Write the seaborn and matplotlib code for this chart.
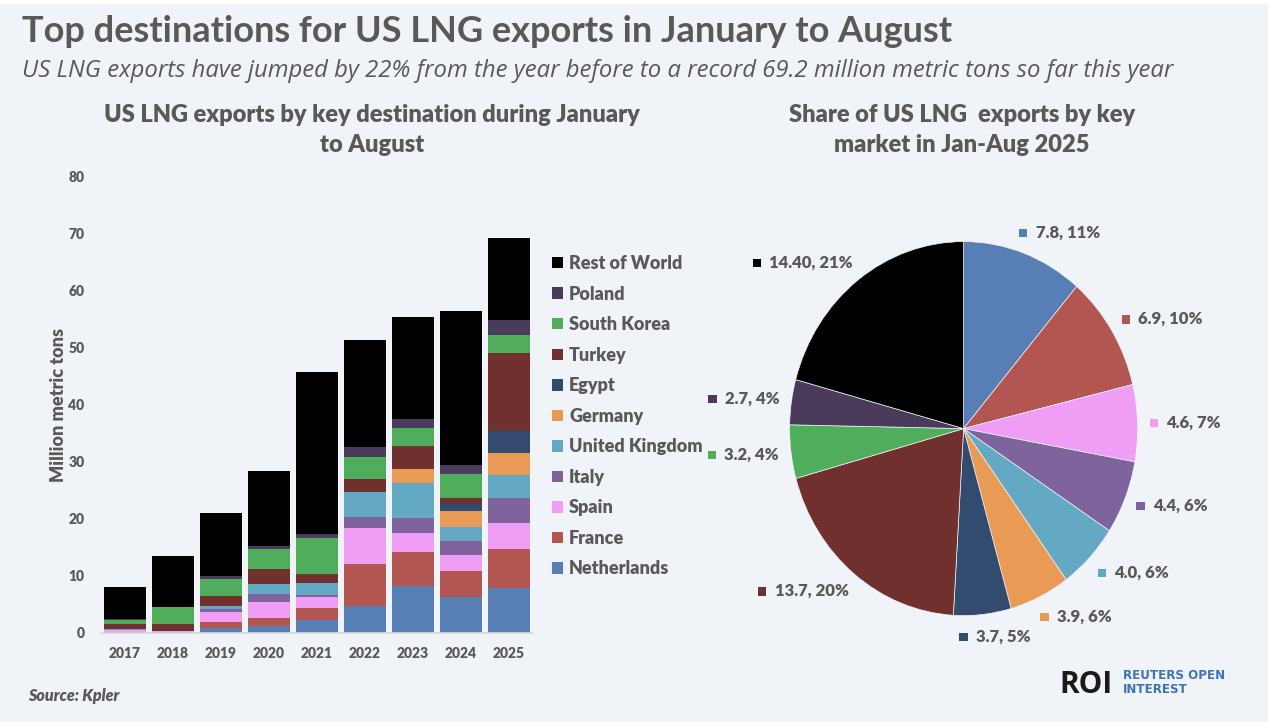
import numpy as np
import pandas as pd
import matplotlib
matplotlib.use("Agg")
from matplotlib import pyplot as plt
from matplotlib.patches import Patch, Rectangle
from matplotlib.transforms import IdentityTransform
import seaborn as sns


years = [2017, 2018, 2019, 2020, 2021, 2022, 2023, 2024, 2025]

netherlands = [0.05, 0.05, 0.9, 1.2, 2.2, 4.6, 8.2, 6.2, 7.8]
france = [0.05, 0.05, 1.05, 1.35, 2.2, 7.5, 5.9, 4.7, 6.9]
spain = [0.35, 0.15, 1.65, 2.9, 1.8, 6.25, 3.4, 2.8, 4.6]
italy = [0.05, 0.1, 0.6, 1.4, 0.5, 2.0, 2.6, 2.4, 4.4]
united_kingdom = [0.15, 0.0, 0.4, 1.7, 1.95, 4.25, 6.1, 2.4, 4.0]
germany = [0.0, 0.0, 0.0, 0.0, 0.0, 0.0, 2.6, 2.9, 3.9]
egypt = [0.0, 0.0, 0.0, 0.0, 0.0, 0.0, 0.0, 1.1, 3.7]
turkey = [0.8, 1.2, 1.8, 2.55, 1.65, 2.35, 3.9, 1.2, 13.7]
south_korea = [0.85, 2.9, 3.0, 3.6, 6.25, 3.85, 3.3, 4.1, 3.2]
poland = [0.05, 0.0, 0.55, 0.45, 0.75, 1.7, 1.5, 1.7, 2.7]
rest_of_world = [5.6, 9.0, 11.1, 13.2, 28.5, 18.8, 17.9, 27.0, 14.4]

countries = ["Netherlands", "France", "Spain", "Italy", "United Kingdom", "Germany",
             "Egypt", "Turkey", "South Korea", "Poland", "Rest of World"]
colors = ["#587EB6", "#B35651", "#F09DF5", "#7F639D", "#63A9C3", "#E99A55",
          "#344B70", "#70302E", "#4FAD5B", "#4A3B5C", "#000000"]

# 2025 shares for the pie (same order as countries)
pie_values = [7.8, 6.9, 4.6, 4.4, 4.0, 3.9, 3.7, 13.7, 3.2, 2.7, 14.40]
pie_labels = ["7.8, 11%", "6.9, 10%", "4.6, 7%", "4.4, 6%", "4.0, 6%", "3.9, 6%",
              "3.7, 5%", "13.7, 20%", "3.2, 4%", "2.7, 4%", "14.40, 21%"]

BG = "#F0F3F7"
GREY = "#595959"
BOLD = 800
W, H = 1268, 722


def fx(x):
    return x / W


def fy(y):
    return 1 - y / H


sns.set_theme(style="white")
plt.rcParams["font.family"] = ["Lato", "DejaVu Sans"]

fig = plt.figure(figsize=(W / 100, H / 100), dpi=100, facecolor=BG)
fig.add_artist(Rectangle((0, fy(4)), 1, 4 / H, transform=fig.transFigure,
                         facecolor="white", edgecolor="none"))

# titles
fig.text(fx(22), fy(42), "Top destinations for US LNG exports in January to August",
         fontsize=26, fontweight="bold", color=GREY, va="baseline", ha="left")
fig.text(fx(22), fy(77), "US LNG exports have jumped by 22% from the year before to a record "
         "69.2 million metric tons so far this year",
         fontsize=17.2, style="italic", color=GREY, va="baseline", ha="left",
         family=["Open Sans", "DejaVu Sans"])

for x, lines in [(372, ["US LNG exports by key destination during January", "to August"]),
                 (962, ["Share of US LNG  exports by key", "market in Jan-Aug 2025"])]:
    for y, line in zip([122, 152], lines):
        fig.text(fx(x), fy(y), line, fontsize=17, fontweight=BOLD, color=GREY,
                 ha="center", va="baseline")

# stacked bars
ax = fig.add_axes([fx(101), fy(632.7), 432 / W, 456 / H])
ax.set_facecolor(BG)

series = [netherlands, france, spain, italy, united_kingdom, germany, egypt,
          turkey, south_korea, poland, rest_of_world]
df = pd.DataFrame({
    "year": np.tile(years, len(countries)),
    "country": np.repeat(countries, len(years)),
    "value": np.concatenate(series),
})
palette = dict(zip(countries, colors))

sns.histplot(data=df, x="year", weights="value", hue="country",
             hue_order=countries[::-1], multiple="stack", discrete=True,
             shrink=0.875, palette=palette, alpha=1, linewidth=0,
             legend=False, ax=ax)

ax.set_xlim(2016.5, 2025.5)
ax.set_ylim(0, 80)
ax.set_xticks(years)
ax.set_yticks(range(0, 81, 10))
ax.tick_params(axis="both", length=0, labelsize=10, labelcolor=GREY)
ax.tick_params(axis="x", pad=10)
ax.tick_params(axis="y", pad=12)
for lab in ax.get_xticklabels() + ax.get_yticklabels():
    lab.set_fontweight(BOLD)
ax.set_xlabel("")
ax.set_ylabel("Million metric tons", fontsize=13, fontweight=BOLD, color=GREY)
ax.yaxis.set_label_coords(-0.078, 0.5)
sns.despine(ax=ax, left=True)
ax.spines["bottom"].set_color("#D9D9D9")
ax.grid(False)

handles = [Patch(facecolor=palette[c], edgecolor="none") for c in countries[::-1]]
fig.legend(handles, countries[::-1], loc="upper left", bbox_to_anchor=(fx(552), fy(255)),
           frameon=False, prop={"size": 13, "weight": BOLD}, labelcolor=GREY,
           handlelength=0.6, handleheight=0.6, handletextpad=0.35, labelspacing=0.75,
           borderaxespad=0, borderpad=0)

# pie
rx, ry = 174, 187
cx, cy = 963.6, 428.6
pax = fig.add_axes([fx(cx - 1.4 * rx), fy(cy + 1.4 * ry), 2.8 * rx / W, 2.8 * ry / H])
wedges, _ = pax.pie(pie_values, colors=colors, startangle=90, counterclock=False,
                    wedgeprops=dict(edgecolor=BG, linewidth=0.5))
pax.set_aspect("auto")
pax.set_xlim(-1.4, 1.4)
pax.set_ylim(-1.4, 1.4)
pax.axis("off")

label_texts = []
for wedge, lab in zip(wedges, pie_labels):
    phi = np.deg2rad((wedge.theta1 + wedge.theta2) / 2)
    t = pax.annotate(lab, xy=(1.07 * np.cos(phi), 1.07 * np.sin(phi)), xytext=(0, 0),
                     textcoords="offset pixels", ha="center", va="center",
                     fontsize=12, fontweight=BOLD, color=GREY)
    label_texts.append((t, phi))

fig.canvas.draw()
for t, phi in label_texts:
    group_w = t.get_window_extent().width + 16.5
    dx = group_w / 2 * np.tanh(3 * np.cos(phi))
    dy = 9 * np.sin(phi)
    t.xyann = (dx + 8.25, dy)

fig.canvas.draw()
for (t, phi), c in zip(label_texts, colors):
    bb = t.get_window_extent()
    yc = (bb.y0 + bb.y1) / 2
    fig.add_artist(Rectangle((bb.x0 - 16.5, yc - 4.5), 8.3, 8.3, transform=IdentityTransform(),
                             facecolor=c, edgecolor="none"))

# footer
fig.text(fx(28), fy(701), "Source: Kpler", fontsize=11.5, fontweight=BOLD, style="italic",
         color=GREY, ha="left", va="baseline")
fig.text(fx(1059), fy(692.7), "ROI", fontsize=21.5, fontweight="bold", color="#1A1A1A",
         ha="left", va="baseline", family=["Open Sans", "DejaVu Sans"])
fig.text(fx(1123), fy(679), "REUTERS OPEN", fontsize=8.6, fontweight="bold", color="#3B73B9",
         ha="left", va="baseline", family=["DejaVu Sans"])
fig.text(fx(1123), fy(692.7), "INTEREST", fontsize=8.6, fontweight="bold", color="#3B73B9",
         ha="left", va="baseline", family=["DejaVu Sans"])

fig.savefig("out.png", dpi=100, facecolor=BG)
